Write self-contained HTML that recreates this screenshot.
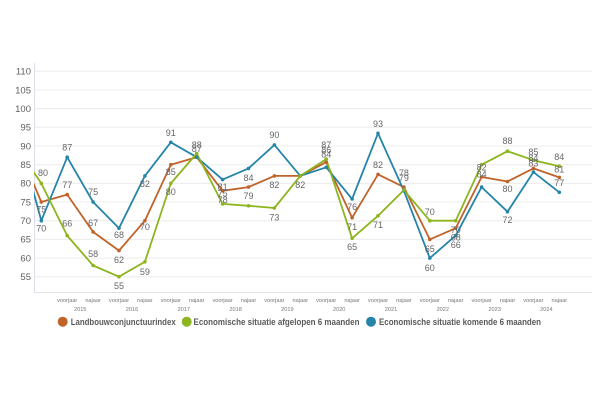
<!DOCTYPE html>
<html>
<head>
<meta charset="utf-8">
<style>
html,body{margin:0;padding:0;background:#fff;}
svg{display:block;}
text{font-family:"Liberation Sans",sans-serif;}
</style>
</head>
<body>
<svg width="600" height="400" viewBox="0 0 600 400" xmlns="http://www.w3.org/2000/svg">
<rect width="600" height="400" fill="#fff"/>
<defs>
<clipPath id="pc"><rect x="34" y="55" width="560" height="240"/></clipPath>
</defs>
<!-- gridlines -->
<g stroke="#ececec" stroke-width="1">
<line x1="34" x2="592" y1="71.3" y2="71.3"/>
<line x1="34" x2="592" y1="90" y2="90"/>
<line x1="34" x2="592" y1="108.6" y2="108.6"/>
<line x1="34" x2="592" y1="127.3" y2="127.3"/>
<line x1="34" x2="592" y1="146" y2="146"/>
<line x1="34" x2="592" y1="164.7" y2="164.7"/>
<line x1="34" x2="592" y1="183.4" y2="183.4"/>
<line x1="34" x2="592" y1="202" y2="202"/>
<line x1="34" x2="592" y1="220.7" y2="220.7"/>
<line x1="34" x2="592" y1="239.4" y2="239.4"/>
<line x1="34" x2="592" y1="258.1" y2="258.1"/>
<line x1="34" x2="592" y1="276.7" y2="276.7"/>
</g>
<line x1="34.5" x2="34.5" y1="63" y2="293" stroke="#dde" stroke-width="1"/>
<line x1="34" x2="592" y1="292.5" y2="292.5" stroke="#e2e2e2" stroke-width="1"/>
<!-- y labels -->
<g font-size="9.5" fill="#5f5f5f" text-anchor="end">
<text x="31" y="74.6">110</text>
<text x="31" y="93.3">105</text>
<text x="31" y="111.9">100</text>
<text x="31" y="130.6">95</text>
<text x="31" y="149.3">90</text>
<text x="31" y="168">85</text>
<text x="31" y="186.7">80</text>
<text x="31" y="205.3">75</text>
<text x="31" y="224">70</text>
<text x="31" y="242.7">65</text>
<text x="31" y="261.4">60</text>
<text x="31" y="280">55</text>
</g>
<!-- series -->
<g clip-path="url(#pc)" fill="none" stroke-width="1.8" stroke-linejoin="round">
<polyline stroke="#c0632b" points="15.4,140.8 41.3,202 67.2,194.6 93.1,231.9 119,250.6 144.9,220.7 170.8,164.7 196.7,157.2 222.6,190.8 248.5,187.1 274.4,175.9 300.3,175.9 326.2,162.1 352.1,217.7 378,174.4 403.9,187.1 429.8,239.4 455.7,228.2 481.6,177 507.5,181.5 533.4,168.4 559.3,177.4"/>
<polyline stroke="#2585a9" points="15.4,125.8 41.3,220.7 67.2,157.2 93.1,202 119,228.2 144.9,175.9 170.8,142.3 196.7,157.2 222.6,179.6 248.5,168.4 274.4,144.9 300.3,175.9 326.2,167.3 352.1,199 378,133.3 403.9,190.8 429.8,258.1 455.7,235.6 481.6,187.1 507.5,211.7 533.4,172.1 559.3,192.3"/>
<polyline stroke="#8cb51e" points="15.4,145.3 41.3,183.4 67.2,235.6 93.1,265.5 119,276.7 144.9,261.8 170.8,183.4 196.7,153.5 222.6,203.9 248.5,205.8 274.4,208 300.3,175.9 326.2,159.1 352.1,238.3 378,215.8 403.9,190.1 429.8,220.7 455.7,220.7 481.6,164.7 507.5,151.2 533.4,160.2 559.3,166.2"/>
</g>
<!-- points -->
<g fill="#c0632b">
<circle cx="41.3" cy="202" r="1.8"/><circle cx="67.2" cy="194.6" r="1.8"/><circle cx="93.1" cy="231.9" r="1.8"/><circle cx="119" cy="250.6" r="1.8"/><circle cx="144.9" cy="220.7" r="1.8"/><circle cx="170.8" cy="164.7" r="1.8"/><circle cx="196.7" cy="157.2" r="1.8"/><circle cx="222.6" cy="190.8" r="1.8"/><circle cx="248.5" cy="187.1" r="1.8"/><circle cx="274.4" cy="175.9" r="1.8"/><circle cx="300.3" cy="175.9" r="1.8"/><circle cx="326.2" cy="162.1" r="1.8"/><circle cx="352.1" cy="217.7" r="1.8"/><circle cx="378" cy="174.4" r="1.8"/><circle cx="403.9" cy="187.1" r="1.8"/><circle cx="429.8" cy="239.4" r="1.8"/><circle cx="455.7" cy="228.2" r="1.8"/><circle cx="481.6" cy="177" r="1.8"/><circle cx="507.5" cy="181.5" r="1.8"/><circle cx="533.4" cy="168.4" r="1.8"/><circle cx="559.3" cy="177.4" r="1.8"/>
</g>
<g fill="#2585a9">
<circle cx="41.3" cy="220.7" r="1.8"/><circle cx="67.2" cy="157.2" r="1.8"/><circle cx="93.1" cy="202" r="1.8"/><circle cx="119" cy="228.2" r="1.8"/><circle cx="144.9" cy="175.9" r="1.8"/><circle cx="170.8" cy="142.3" r="1.8"/><circle cx="196.7" cy="157.2" r="1.8"/><circle cx="222.6" cy="179.6" r="1.8"/><circle cx="248.5" cy="168.4" r="1.8"/><circle cx="274.4" cy="144.9" r="1.8"/><circle cx="300.3" cy="175.9" r="1.8"/><circle cx="326.2" cy="167.3" r="1.8"/><circle cx="352.1" cy="199" r="1.8"/><circle cx="378" cy="133.3" r="1.8"/><circle cx="403.9" cy="190.8" r="1.8"/><circle cx="429.8" cy="258.1" r="1.8"/><circle cx="455.7" cy="235.6" r="1.8"/><circle cx="481.6" cy="187.1" r="1.8"/><circle cx="507.5" cy="211.7" r="1.8"/><circle cx="533.4" cy="172.1" r="1.8"/><circle cx="559.3" cy="192.3" r="1.8"/>
</g>
<g fill="#8cb51e">
<circle cx="41.3" cy="183.4" r="1.8"/><circle cx="67.2" cy="235.6" r="1.8"/><circle cx="93.1" cy="265.5" r="1.8"/><circle cx="119" cy="276.7" r="1.8"/><circle cx="144.9" cy="261.8" r="1.8"/><circle cx="170.8" cy="183.4" r="1.8"/><circle cx="196.7" cy="153.5" r="1.8"/><circle cx="222.6" cy="203.9" r="1.8"/><circle cx="248.5" cy="205.8" r="1.8"/><circle cx="274.4" cy="208" r="1.8"/><circle cx="300.3" cy="175.9" r="1.8"/><circle cx="326.2" cy="159.1" r="1.8"/><circle cx="352.1" cy="238.3" r="1.8"/><circle cx="378" cy="215.8" r="1.8"/><circle cx="403.9" cy="190.1" r="1.8"/><circle cx="429.8" cy="220.7" r="1.8"/><circle cx="455.7" cy="220.7" r="1.8"/><circle cx="481.6" cy="164.7" r="1.8"/><circle cx="507.5" cy="151.2" r="1.8"/><circle cx="533.4" cy="160.2" r="1.8"/><circle cx="559.3" cy="166.2" r="1.8"/>
</g>
<!-- data labels -->
<g font-size="9" fill="#666" text-anchor="middle">
<text x="43" y="176">80</text><text x="41.3" y="212.5">75</text><text x="41.3" y="231.5">70</text>
<text x="67.2" y="150.5">87</text><text x="67.2" y="188.2">77</text><text x="67.2" y="226.5">66</text>
<text x="93.1" y="195.2">75</text><text x="93.1" y="226.2">67</text><text x="93.1" y="257.2">58</text>
<text x="119" y="238.2">68</text><text x="119" y="263.2">62</text><text x="119" y="289.2">55</text>
<text x="144.9" y="187.2">82</text><text x="144.9" y="229.9">70</text><text x="144.9" y="274.9">59</text>
<text x="170.8" y="135.9">91</text><text x="170.8" y="174.9">85</text><text x="170.8" y="194.9">80</text>
<text x="196.7" y="148.2">88</text><text x="196.7" y="152.2">87</text>
<text x="222.6" y="189.9">81</text><text x="222.6" y="196.5">75</text><text x="222.6" y="203.2">78</text>
<text x="248.5" y="180.9">84</text><text x="248.5" y="199.2">79</text>
<text x="274.4" y="138.2">90</text><text x="274.4" y="188.2">82</text><text x="274.4" y="220.5">73</text>
<text x="300.3" y="188.2">82</text>
<text x="326.2" y="148.2">87</text><text x="326.2" y="153.2">86</text><text x="326.2" y="157.7">84</text>
<text x="352.1" y="210.2">76</text><text x="352.1" y="230.2">71</text><text x="352.1" y="249.9">65</text>
<text x="378" y="127.2">93</text><text x="378" y="168.2">82</text><text x="378" y="228.2">71</text>
<text x="403.9" y="176.2">78</text><text x="403.9" y="181.2">79</text>
<text x="429.8" y="215.2">70</text><text x="429.8" y="252.2">65</text><text x="429.8" y="270.9">60</text>
<text x="455.7" y="233.2">70</text><text x="455.7" y="240.5">68</text><text x="455.7" y="248.2">66</text>
<text x="481.6" y="170.5">82</text><text x="481.6" y="177.5">84</text>
<text x="507.5" y="144.2">88</text><text x="507.5" y="192.2">80</text><text x="507.5" y="223.2">72</text>
<text x="533.4" y="154.9">85</text><text x="533.4" y="160.9">84</text><text x="533.4" y="166.5">83</text>
<text x="559.3" y="159.9">84</text><text x="559.3" y="172.5">81</text><text x="559.3" y="185.9">77</text>
</g>
<!-- x labels -->
<g font-size="5.6" fill="#777" text-anchor="middle">
<text x="67.2" y="302">voorjaar</text><text x="93.1" y="302">najaar</text>
<text x="119" y="302">voorjaar</text><text x="144.9" y="302">najaar</text>
<text x="170.8" y="302">voorjaar</text><text x="196.7" y="302">najaar</text>
<text x="222.6" y="302">voorjaar</text><text x="248.5" y="302">najaar</text>
<text x="274.4" y="302">voorjaar</text><text x="300.3" y="302">najaar</text>
<text x="326.2" y="302">voorjaar</text><text x="352.1" y="302">najaar</text>
<text x="378" y="302">voorjaar</text><text x="403.9" y="302">najaar</text>
<text x="429.8" y="302">voorjaar</text><text x="455.7" y="302">najaar</text>
<text x="481.6" y="302">voorjaar</text><text x="507.5" y="302">najaar</text>
<text x="533.4" y="302">voorjaar</text><text x="559.3" y="302">najaar</text>
<text x="80.2" y="311">2015</text><text x="132" y="311">2016</text>
<text x="183.8" y="311">2017</text><text x="235.6" y="311">2018</text>
<text x="287.4" y="311">2019</text><text x="339.2" y="311">2020</text>
<text x="391" y="311">2021</text><text x="442.8" y="311">2022</text>
<text x="494.6" y="311">2023</text><text x="546.4" y="311">2024</text>
</g>
<!-- legend -->
<circle cx="62.7" cy="321.7" r="5" fill="#c0632b"/>
<circle cx="186.7" cy="321.7" r="5" fill="#8cb51e"/>
<circle cx="371" cy="321.7" r="5" fill="#2585a9"/>
<g font-size="9.2" font-weight="bold" fill="#5a5a5a">
<text x="70.7" y="325" textLength="105" lengthAdjust="spacingAndGlyphs">Landbouwconjunctuurindex</text>
<text x="193.5" y="325" textLength="166" lengthAdjust="spacingAndGlyphs">Economische situatie afgelopen 6 maanden</text>
<text x="379" y="325" textLength="162" lengthAdjust="spacingAndGlyphs">Economische situatie komende 6 maanden</text>
</g>
</svg>
</body>
</html>
